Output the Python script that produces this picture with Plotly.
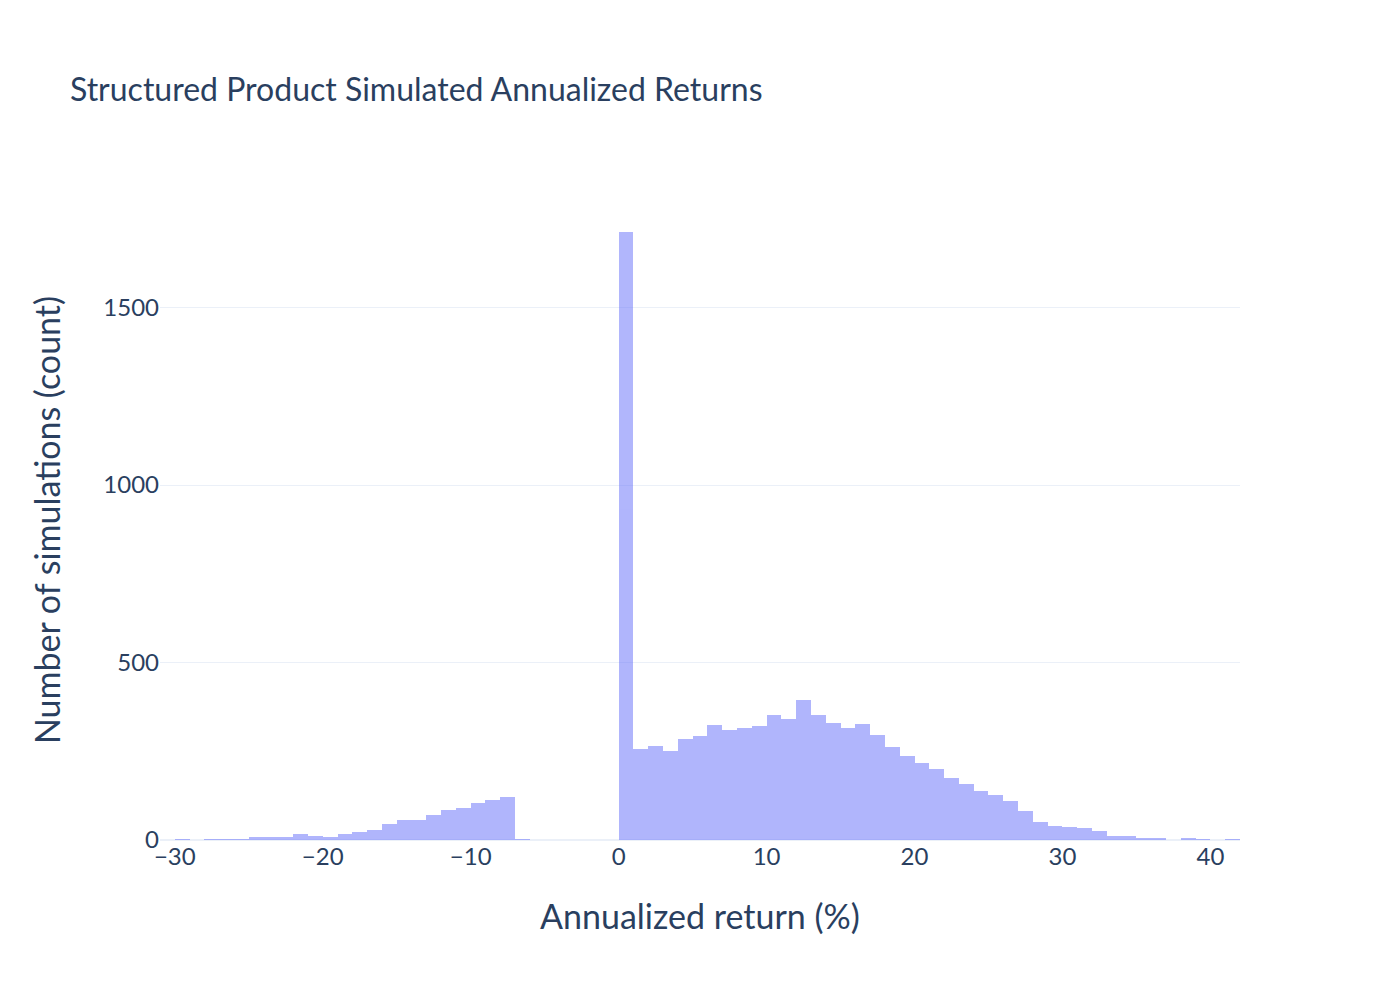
import plotly.graph_objects as go

# histogram of simulated annualized returns, 1% bins (left edge of each bin)
bin_start = list(range(-30, 42))
counts = [
    2, 0, 2, 2, 2, 8, 8, 8, 16, 12,          # -30 .. -21
    9, 16, 23, 29, 44, 57, 57, 70, 84, 89,   # -20 .. -11
    105, 114, 120, 2, 0, 0, 0, 0, 0, 0,      # -10 .. -1
    1713, 257, 266, 252, 285, 294, 325, 311, 316, 322,  # 0 .. 9
    353, 342, 395, 353, 331, 316, 328, 297, 263, 238,   # 10 .. 19
    218, 201, 176, 159, 139, 128, 111, 83, 52, 40,      # 20 .. 29
    38, 35, 26, 12, 12, 4, 6, 0, 4, 2,                  # 30 .. 39
    0, 2,                                               # 40 .. 41
]
bin_width = 1

fig = go.Figure(go.Bar(
    x=[b + bin_width / 2 for b in bin_start],
    y=counts,
    width=bin_width,
    marker=dict(color="#636efa", line=dict(width=0)),
    opacity=0.5,
    hovertemplate="Return=%{x}<br>Count=%{y}<extra></extra>",
))

# page has an 8px body margin, so shift everything up/left by 8px
fig.update_layout(
    template="plotly_white",
    width=1400, height=1000,
    margin=dict(l=152, r=168, t=192, b=168),
    font=dict(family="Lato", size=24, color="#2a3f5f"),
    title=dict(text="Structured Product Simulated Annualized Returns",
               x=62 / 1400, xanchor="left", y=0.918, yanchor="middle",
               font=dict(size=32)),
    bargap=0,
    showlegend=False,
)
fig.update_xaxes(title=dict(text="Annualized return (%)", font=dict(size=34), standoff=36),
                 range=[-31, 42], dtick=10, showgrid=False)
fig.update_yaxes(title=dict(text="Number of simulations (count)", font=dict(size=34), standoff=32),
                 dtick=500)

fig.write_html("out.html")
